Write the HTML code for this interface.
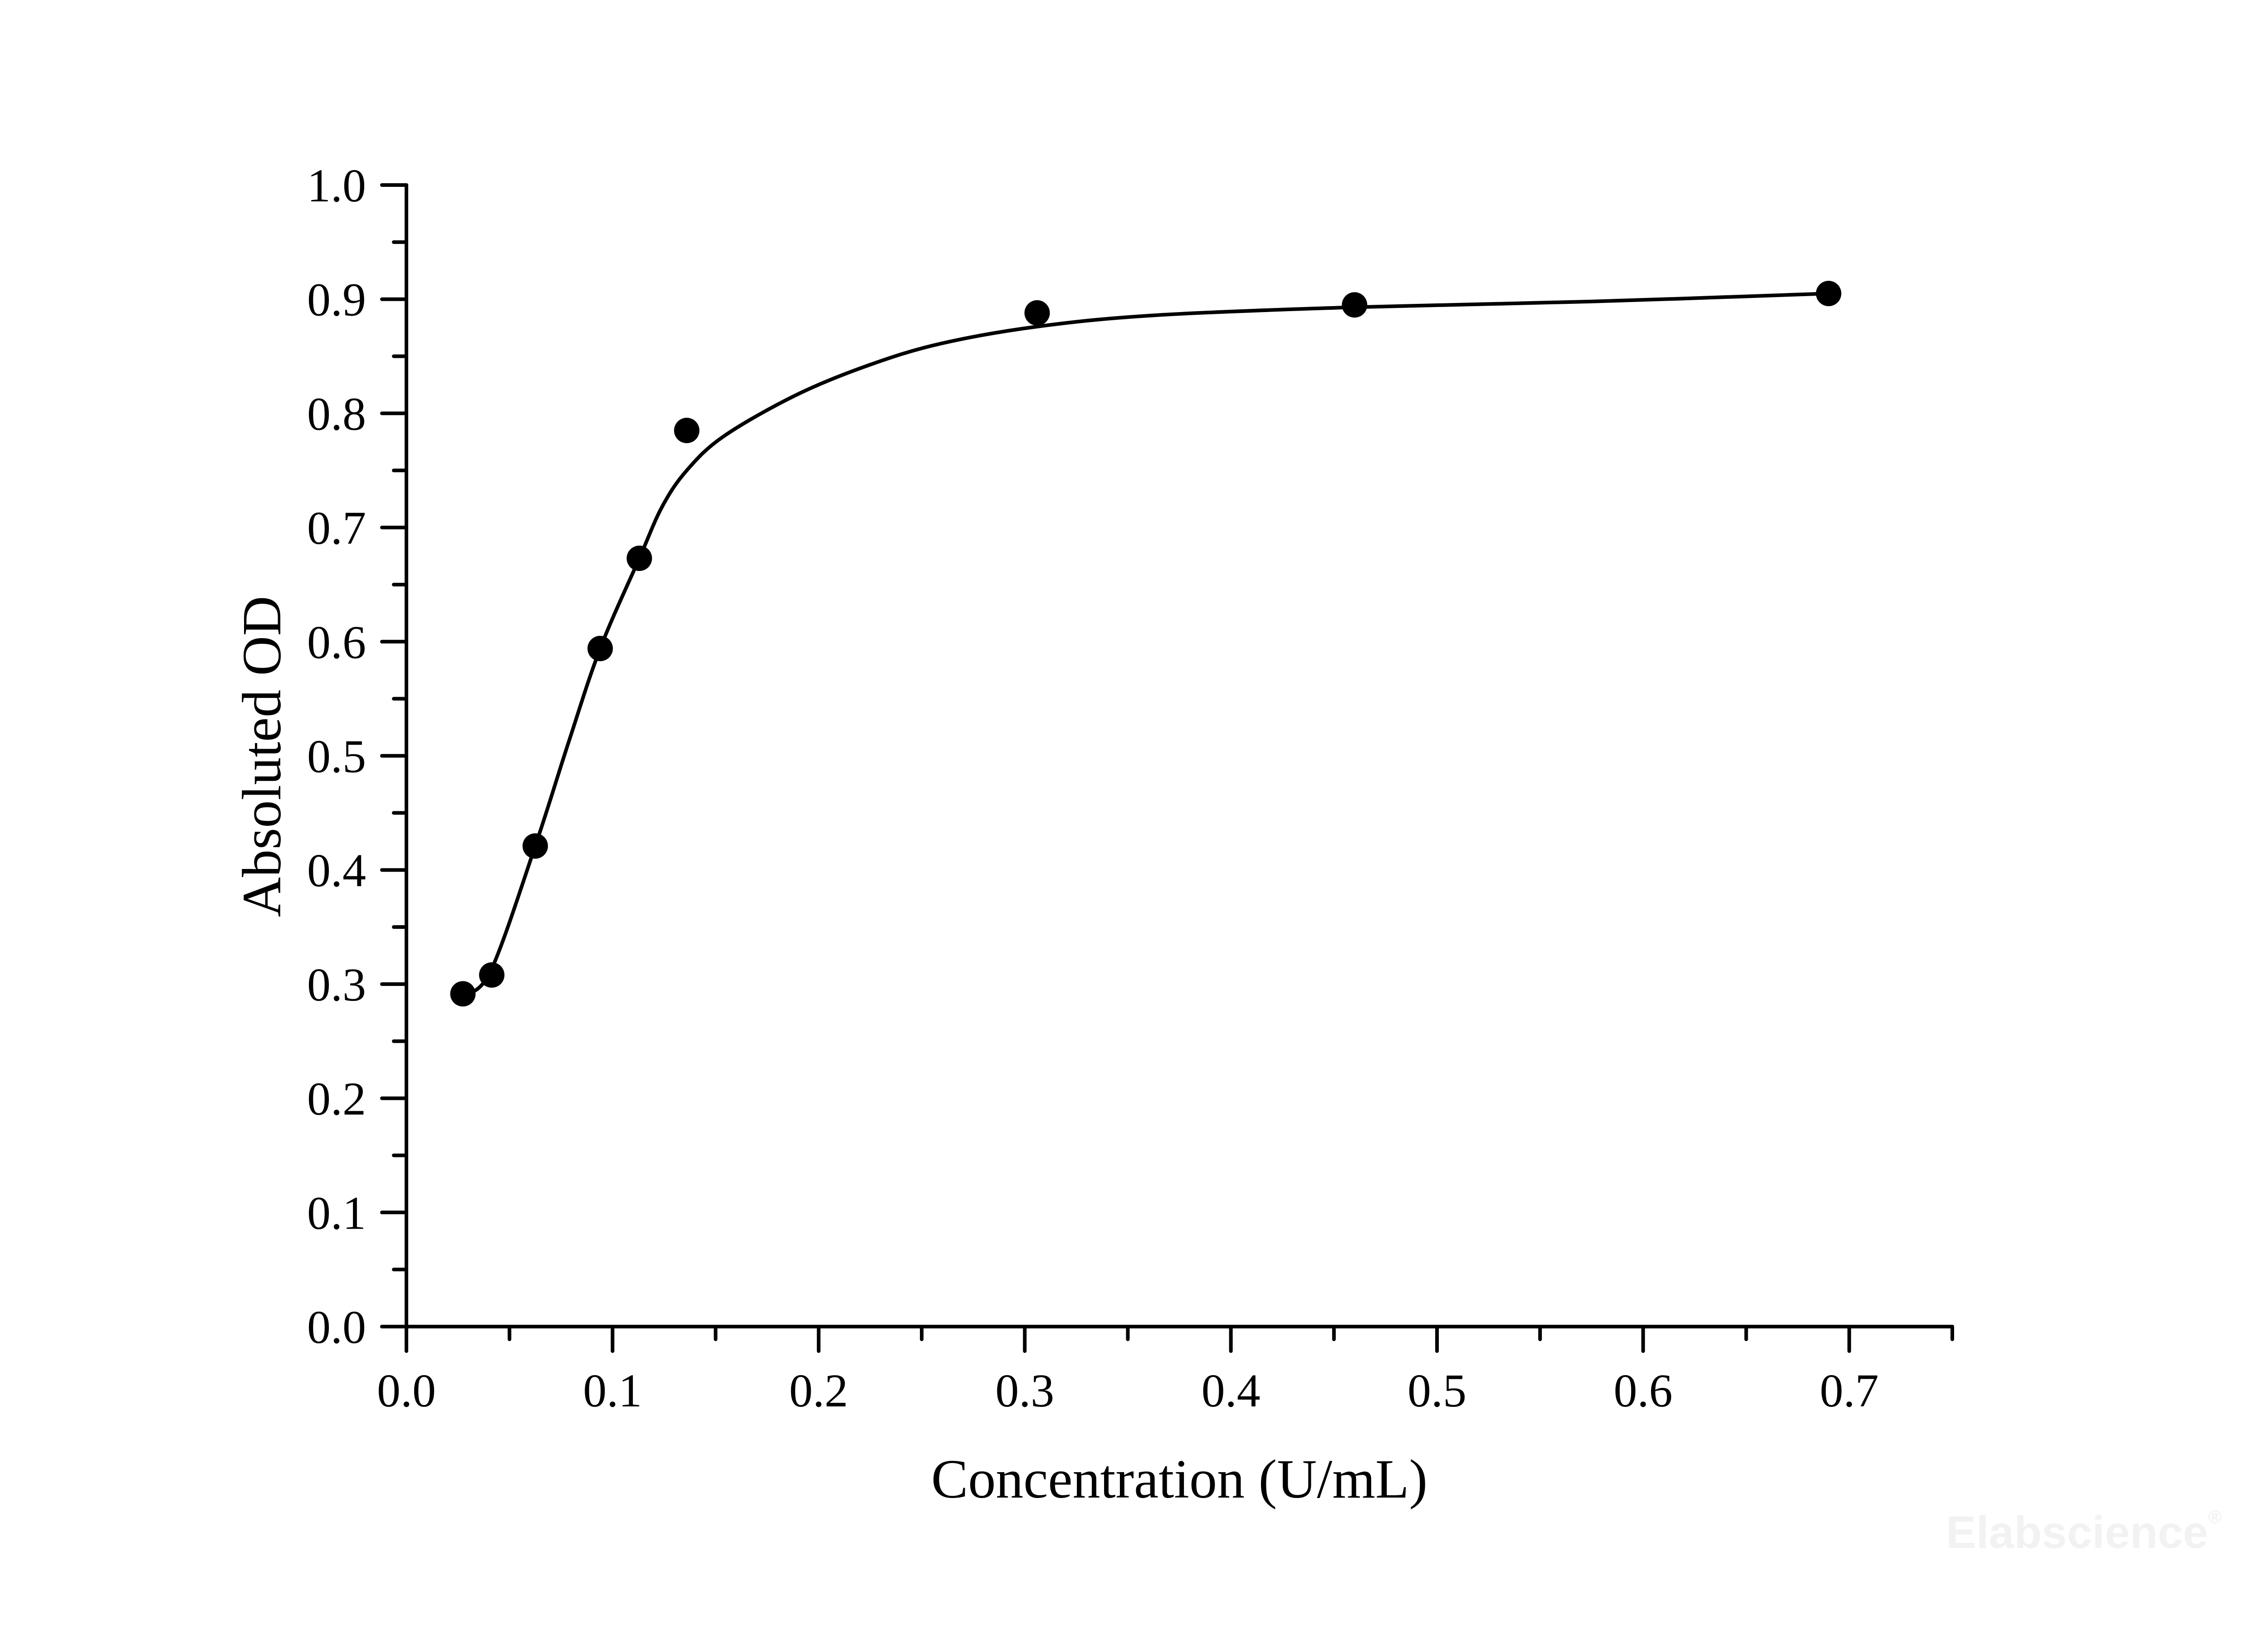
<!DOCTYPE html>
<html><head><meta charset="utf-8">
<style>
html,body{margin:0;padding:0;background:#fff;}
svg{display:block;}
text{font-family:"Liberation Serif",serif;fill:#000;}
</style></head>
<body>
<svg id="chart" width="5120" height="3594" viewBox="0 0 5120 3594" xmlns="http://www.w3.org/2000/svg">
<rect x="0" y="0" width="5120" height="3594" fill="#fff"/>
<g id="axes"></g>
<path id="fit" fill="none" stroke="#000" stroke-width="8"/>
<g id="points"></g>
<text x="2600" y="3302" font-size="122" text-anchor="middle">Concentration (U/mL)</text>
<text transform="translate(618,1668) rotate(-90)" font-size="122" text-anchor="middle">Absoluted OD</text>
<text x="4290" y="3413" font-size="100" font-weight="bold" style="font-family:'Liberation Sans',sans-serif;fill:#f2f2f2">Elabscience<tspan font-size="40" dy="-55">®</tspan></text>
</svg>
<script>
const concX = [0.0274, 0.0414, 0.0625, 0.094, 0.113, 0.136, 0.306, 0.46, 0.69];
const odY = [0.2915, 0.308, 0.421, 0.594, 0.673, 0.785, 0.888, 0.895, 0.905];
const fitX = [0.028, 0.041, 0.0625, 0.0787, 0.094, 0.113, 0.124, 0.136, 0.154, 0.189, 0.224, 0.259, 0.306, 0.364, 0.46, 0.575, 0.69];
const fitY = [0.29, 0.312, 0.421, 0.512, 0.594, 0.673, 0.718, 0.750, 0.780, 0.816, 0.842, 0.861, 0.876, 0.886, 0.893, 0.898, 0.905];
const xTicks = [0, 0.1, 0.2, 0.3, 0.4, 0.5, 0.6, 0.7];
const xTickLabels = ["0.0","0.1","0.2","0.3","0.4","0.5","0.6","0.7"];
const yTicks = [0,0.1,0.2,0.3,0.4,0.5,0.6,0.7,0.8,0.9,1.0];
const yTickLabels = ["0.0","0.1","0.2","0.3","0.4","0.5","0.6","0.7","0.8","0.9","1.0"];

const X0=896, XPX=4544, Y0=2925, YPX=2517;
function sx(v){return X0+v*XPX;}
function sy(v){return Y0-v*YPX;}
const NS="http://www.w3.org/2000/svg";
const axes=document.getElementById('axes');
function line(x1,y1,x2,y2,name){
  const l=document.createElementNS(NS,'line');
  l.setAttribute('x1',x1);l.setAttribute('y1',y1);l.setAttribute('x2',x2);l.setAttribute('y2',y2);
  l.setAttribute('stroke','#000');l.setAttribute('stroke-width','8');l.setAttribute('stroke-linecap','round');
  
  
  axes.appendChild(l);return l;
}
function txt(x,y,s,anchor,name){
  const t=document.createElementNS(NS,'text');
  t.setAttribute('x',x);t.setAttribute('y',y);t.setAttribute('font-size','104');t.setAttribute('text-anchor',anchor);
  t.textContent=s;
  
  
  axes.appendChild(t);
}
line(sx(0),sy(1.0),sx(0),sy(0),'y-axis-line');
line(sx(0)-54,sy(0),sx(0.75),sy(0),'x-axis-line');
yTicks.forEach((v,i)=>{
  line(sx(0)-54,sy(v),sx(0),sy(v),'y-major-tick');
  txt(sx(0)-89,sy(v)+36,yTickLabels[i],'end','y-tick-label');
  if(i<yTicks.length-1) line(sx(0)-28,sy(v+0.05),sx(0),sy(v+0.05),'y-minor-tick');
});
xTicks.forEach((v,i)=>{
  line(sx(v),sy(0),sx(v),sy(0)+54,'x-major-tick');
  txt(sx(v),sy(0)+176,xTickLabels[i],'middle','x-tick-label');
  line(sx(v+0.05),sy(0),sx(v+0.05),sy(0)+28,'x-minor-tick');
});
const P=fitX.map((x,i)=>[sx(x),sy(fitY[i])]);
let d='M'+P[0][0]+','+P[0][1];
for(let i=0;i<P.length-1;i++){
  const p0=P[Math.max(0,i-1)],p1=P[i],p2=P[i+1],p3=P[Math.min(P.length-1,i+2)];
  const c1=[p1[0]+(p2[0]-p0[0])/6,p1[1]+(p2[1]-p0[1])/6];
  const c2=[p2[0]-(p3[0]-p1[0])/6,p2[1]-(p3[1]-p1[1])/6];
  d+=` C${c1[0]},${c1[1]} ${c2[0]},${c2[1]} ${p2[0]},${p2[1]}`;
}
document.getElementById('fit').setAttribute('d',d);
const pts=document.getElementById('points');
concX.forEach((x,i)=>{
  const c=document.createElementNS(NS,'circle');
  c.setAttribute('cx',sx(x));c.setAttribute('cy',sy(odY[i]));c.setAttribute('r','28');c.setAttribute('fill','#000');
  
  
  pts.appendChild(c);
});
</script>
</body></html>
